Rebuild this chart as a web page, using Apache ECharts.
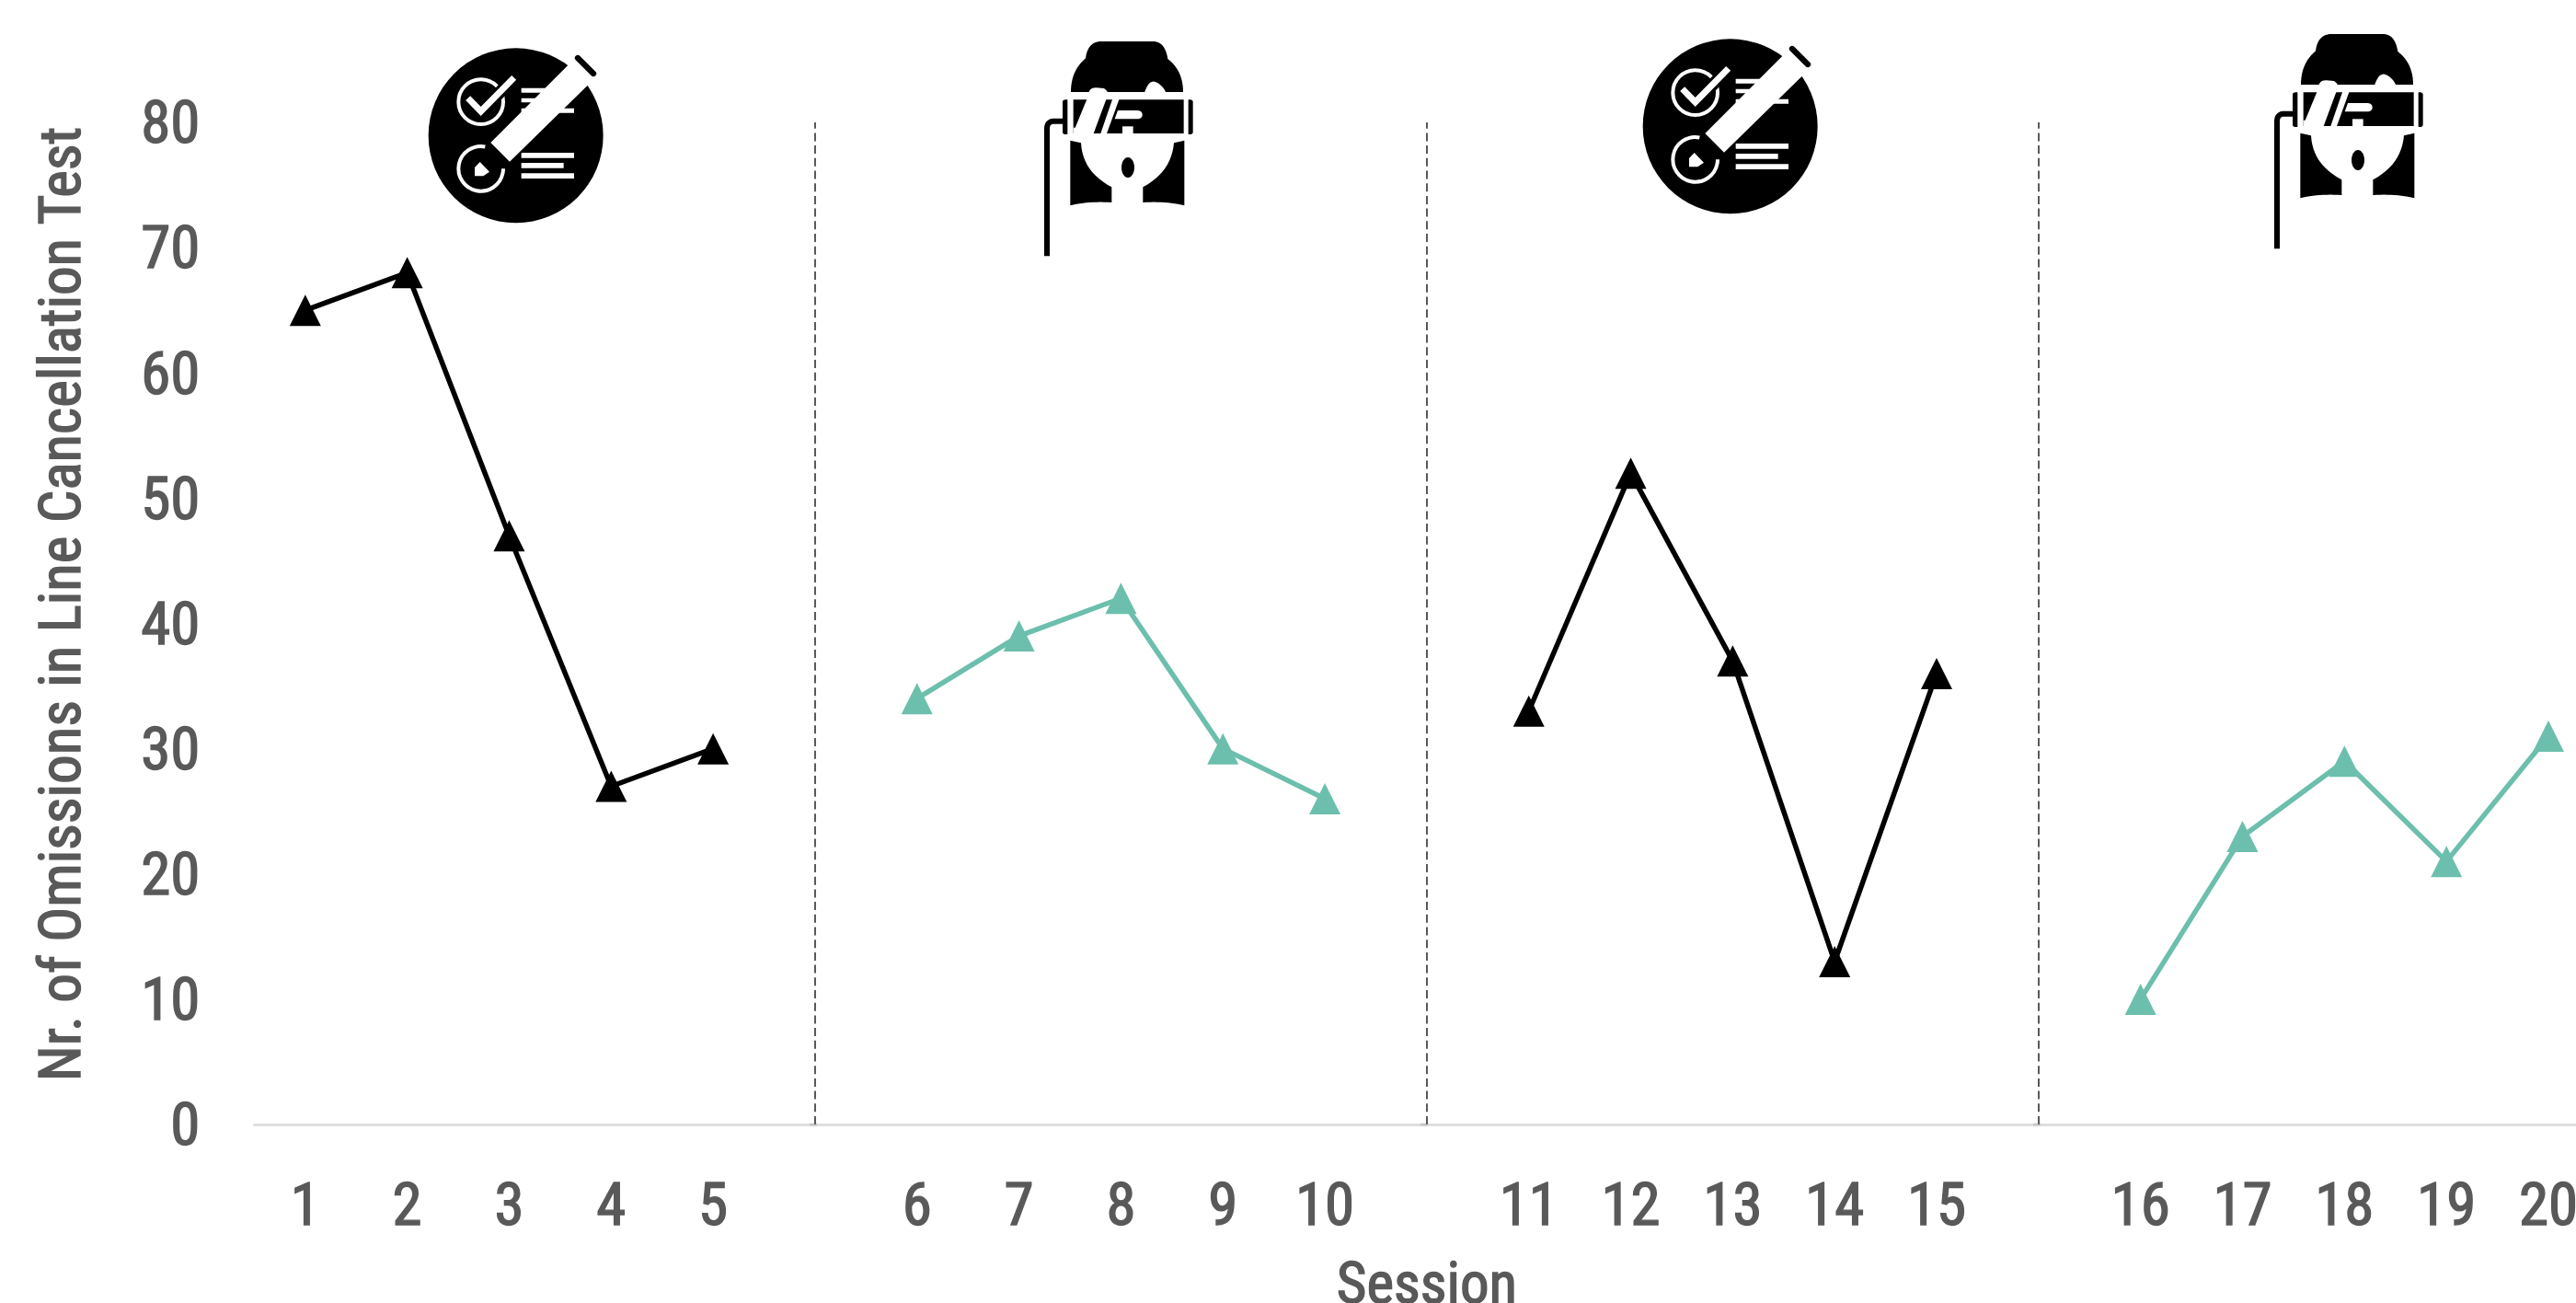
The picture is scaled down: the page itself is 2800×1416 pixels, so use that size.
<!DOCTYPE html>
<html><head><meta charset="utf-8">
<style>html,body{margin:0;padding:0;background:#fff}#c{width:2800px;height:1416px}</style>
<script src="https://cdn.jsdelivr.net/npm/echarts@6/dist/echarts.min.js"></script>
</head><body><div id="c"></div>
<script>
const categories = ['1','2','3','4','5','','6','7','8','9','10','','11','12','13','14','15','','16','17','18','19','20'];
const blackValues = [65,68,47,27,30,null,null,null,null,null,null,null,33,52,37,13,36,null,null,null,null,null,null];
const tealValues = [null,null,null,null,null,null,34,39,42,30,26,null,null,null,null,null,null,null,10,23,29,21,31];
const separators = [5,11,17];
const yTitle = 'Nr. of Omissions in Line Cancellation Test';
const xTitle = 'Session';
const FONT = '"Roboto Condensed","Roboto",sans-serif';
const TXT = '#595959', TEAL = '#6cbfac';

// tiny M/L/Q outline helper for the decorative icons
function outline(d){
  const t=d.trim().split(/\s+/);let i=0,pts=[],cur=null;
  while(i<t.length){
    const c=t[i++];
    if(c==='M'||c==='L'){cur=[+t[i],+t[i+1]];i+=2;pts.push(cur);}
    else if(c==='Q'){
      const a=[+t[i],+t[i+1]],b=[+t[i+2],+t[i+3]];i+=4;
      for(let k=1;k<=12;k++){const u=k/12,v=1-u;
        pts.push([v*v*cur[0]+2*u*v*a[0]+u*u*b[0],v*v*cur[1]+2*u*v*a[1]+u*u*b[1]]);}
      cur=b;
    }
  }
  return pts;
}
function checklist(x,y){
  const W='#fff',K='#000';
  const rect=(x0,y0,x1,y1)=>({type:'rect',shape:{x:x0,y:y0,width:x1-x0,height:y1-y0},style:{fill:W}});
  return {type:'group',x:x,y:y,scaleX:1/3,scaleY:1/3,silent:true,children:[
    {type:'circle',shape:{cx:332,cy:322,r:285},style:{fill:K}},
    {type:'circle',shape:{cx:218,cy:212,r:73},style:{fill:'none',stroke:W,lineWidth:12}},
    {type:'polyline',shape:{points:[[170,196],[218,245],[326,133]]},style:{fill:'none',stroke:K,lineWidth:40}},
    {type:'polyline',shape:{points:[[176,200],[218,243],[326,133]]},style:{fill:'none',stroke:W,lineWidth:21}},
    rect(350,167,522,182),rect(350,200,490,214),rect(350,233,522,248),
    {type:'arc',shape:{cx:218,cy:430,r:73,startAngle:-79*Math.PI/180,endAngle:0,clockwise:false},style:{fill:'none',stroke:W,lineWidth:12}},
    {type:'polygon',shape:{points:[[215,408],[198,426],[198,454],[226,454],[246,440]]},style:{fill:W}},
    rect(350,378,522,395),rect(350,411,488,428),rect(350,445,522,462),
    {type:'polygon',shape:{points:[[250,345],[525,70],[590,135],[312,407]]},style:{fill:W}},
    {type:'line',shape:{x1:534,y1:69,x2:585,y2:120},style:{stroke:K,lineWidth:19,lineCap:'round'}}
  ]};
}
function person(x,y){
  const W='#fff',K='#000';
  const p=(d,fill)=>({type:'polygon',shape:{points:outline(d)},style:{fill}});
  return {type:'group',x:x,y:y,scaleX:1/3,scaleY:1/3,silent:true,children:[
    p('M 225 45 L 405 45 Q 440 50 448 102 Q 498 140 498 210 L 132 210 Q 132 140 180 100 Q 186 50 225 45',K),
    p('M 190 212 Q 195 195 215 196 L 240 198 Q 250 205 252 212 L 372 212 Q 385 172 405 176 Q 430 185 442 212 L 442 236 L 190 236',W),
    p('M 105 243 Q 105 235 115 235 L 121 235 L 121 348 L 115 348 Q 105 348 105 340',K),
    p('M 530 243 Q 530 235 520 235 L 515 235 L 515 348 L 520 348 Q 530 348 530 340',K),
    p('M 140 235 L 500 235 L 500 345 L 140 345',K),
    p('M 185 232 L 248 232 L 205 348 L 140 348 L 140 326 L 146 326',W),
    p('M 268 232 L 290 232 L 248 348 L 228 348',W),
    p('M 285 270 L 350 270 Q 365 272 365 284 Q 365 296 350 298 L 275 298',W),
    p('M 300 322 L 335 322 L 335 348 L 300 348',W),
    p('M 130 368 L 165 376 Q 170 470 265 520 L 265 570 Q 190 565 130 580',K),
    p('M 502 368 L 468 376 Q 460 470 367 520 L 367 570 Q 440 565 502 580',K),
    {type:'ellipse',shape:{cx:318,cy:456,rx:21,ry:33},style:{fill:K}},
    {type:'polyline',shape:{points:outline('M 108 305 L 78 305 Q 54 305 54 330 L 54 745')},style:{fill:'none',stroke:K,lineWidth:18}}
  ]};
}
const baseTicks=[880,1544,2210].map(x=>({type:'rect',silent:true,shape:{x:x,y:1221,width:8,height:2.5},style:{fill:'#404040'}}));
const thicken={textBorderColor:TXT,textBorderWidth:1.4};

const chart=echarts.init(document.getElementById('c'),null,{renderer:'canvas',width:2800,height:1416});
chart.setOption({
  animation:false,
  backgroundColor:'#fff',
  textStyle:{fontFamily:FONT},
  grid:{left:276.4,top:133,width:2549,height:1089,containLabel:false,outerBoundsMode:'none'},
  xAxis:{type:'category',data:categories,boundaryGap:true,
    name:xTitle,nameLocation:'middle',nameGap:147,
    nameTextStyle:{fontFamily:FONT,fontSize:63,fontWeight:400,color:TXT,...thicken},
    axisLine:{show:true,onZero:false,lineStyle:{color:'#d9d9d9',width:2.5}},
    axisTick:{show:false},
    axisLabel:{interval:0,margin:60,fontFamily:FONT,fontSize:65,fontWeight:400,color:TXT,...thicken,hideOverlap:false,showMinLabel:true,showMaxLabel:true},
    splitLine:{show:false}},
  yAxis:{type:'value',min:0,max:80,interval:10,
    name:yTitle,nameLocation:'middle',nameGap:174,nameRotate:90,
    nameTextStyle:{fontFamily:FONT,fontSize:63,fontWeight:400,color:TXT,...thicken,padding:[0,0,0,42]},
    axisLine:{show:false},axisTick:{show:false},splitLine:{show:false},
    axisLabel:{margin:59,fontFamily:FONT,fontSize:65,fontWeight:400,color:TXT,...thicken,verticalAlign:'top',lineHeight:12}},
  series:[
    {name:'Black',type:'line',data:blackValues,connectNulls:false,symbol:'triangle',symbolSize:34,
      showAllSymbol:true,lineStyle:{color:'#000',width:5.5},itemStyle:{color:'#000'},
      markLine:{silent:true,symbol:'none',label:{show:false},
        lineStyle:{color:'#595959',width:2,type:[9,4.7]},
        data:separators.map(i=>({xAxis:i}))}},
    {name:'Teal',type:'line',data:tealValues,connectNulls:false,symbol:'triangle',symbolSize:34,
      showAllSymbol:true,lineStyle:{color:TEAL,width:5.5},itemStyle:{color:TEAL}}
  ],
  graphic:{elements:[
    checklist(450,40),person(1120,30),checklist(1770,30),person(2457,22),...baseTicks
  ]}
});
</script></body></html>
